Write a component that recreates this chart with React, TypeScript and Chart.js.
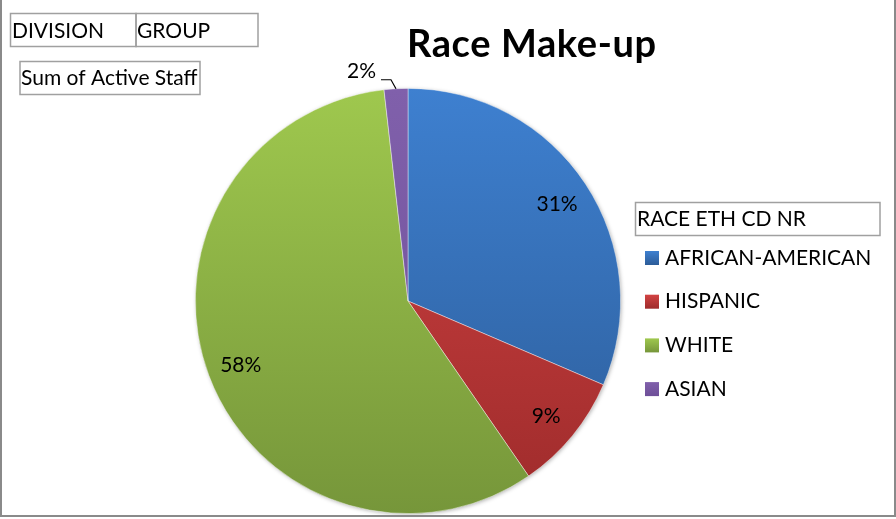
import React, { useEffect, useRef } from "react";
import { Chart, registerables } from "chart.js";

Chart.register(...registerables);

const categories = ["AFRICAN-AMERICAN", "HISPANIC", "WHITE", "ASIAN"];
const values = [31.45, 8.95, 57.8, 1.8];
const topColors = ["#3e80d0", "#d24343", "#9fc84e", "#8060ab"];
const bottomColors = ["#2c5c98", "#9e2b2b", "#76963a", "#6e4f98"];
const titleText = "Race Make-up";
const legendTitle = "RACE ETH CD NR";
const filterFields = ["DIVISION", "GROUP"];
const valueField = "Sum of Active Staff";

const FONT = "Lato, 'Open Sans', sans-serif";

const overlayPlugin = {
  id: "overlay",
  beforeDatasetsDraw(chart: any) {
    const meta = chart.getDatasetMeta(0);
    const arc = meta.data[0];
    if (!arc) return;
    const { x, y, outerRadius } = arc.getProps(["x", "y", "outerRadius"], true);
    const ctx = chart.ctx;
    ctx.save();
    ctx.shadowColor = "rgba(0,0,0,0.35)";
    ctx.shadowBlur = 4;
    ctx.shadowOffsetX = 1;
    ctx.shadowOffsetY = 1;
    ctx.fillStyle = "#ffffff";
    ctx.beginPath();
    ctx.arc(x, y, outerRadius - 0.5, 0, Math.PI * 2);
    ctx.fill();
    ctx.restore();
  },
  afterDatasetsDraw(chart: any) {
    const ctx = chart.ctx;
    const meta = chart.getDatasetMeta(0);
    const total = values.reduce((a, b) => a + b, 0);
    ctx.save();
    ctx.fillStyle = "#000";
    ctx.font = `21px ${FONT}`;
    meta.data.forEach((el: any, i: number) => {
      const p = el.getProps(["x", "y", "startAngle", "endAngle", "outerRadius"], true);
      const mid = (p.startAngle + p.endAngle) / 2;
      const pct = Math.round((values[i] / total) * 100) + "%";
      if (values[i] / total < 0.05) {
        const ex = p.x + Math.cos(mid) * p.outerRadius;
        const ey = p.y + Math.sin(mid) * p.outerRadius;
        const kx = ex - 5;
        const ky = ey - 9;
        const lx = kx - 10;
        ctx.strokeStyle = "#000";
        ctx.lineWidth = 1.2;
        ctx.beginPath();
        ctx.moveTo(ex, ey);
        ctx.lineTo(kx, ky);
        ctx.lineTo(lx, ky);
        ctx.stroke();
        ctx.textAlign = "right";
        ctx.textBaseline = "alphabetic";
        ctx.fillText(pct, lx - 5, ky - 2);
      } else {
        const r = p.outerRadius * 0.84;
        ctx.textAlign = "center";
        ctx.textBaseline = "middle";
        ctx.fillText(pct, p.x + Math.cos(mid) * r, p.y + Math.sin(mid) * r + 2);
      }
    });
    ctx.restore();
  },
  afterDraw(chart: any) {
    const ctx = chart.ctx;
    ctx.save();
    // outer frame
    ctx.strokeStyle = "#8a8a8a";
    ctx.lineWidth = 2;
    ctx.strokeRect(1, -5, 894, 521);

    // title
    ctx.fillStyle = "#000";
    ctx.font = `bold 38px ${FONT}`;
    ctx.textAlign = "left";
    ctx.textBaseline = "alphabetic";
    try { (ctx as any).letterSpacing = "0.6px"; } catch (e) {}
    ctx.fillText(titleText, 407, 57);
    try { (ctx as any).letterSpacing = "0px"; } catch (e) {}

    // field buttons
    ctx.strokeStyle = "#a0a0a0";
    ctx.lineWidth = 1.5;
    ctx.font = `21px ${FONT}`;
    ctx.strokeRect(10.5, 13.5, 125.5, 33);
    ctx.strokeRect(136, 13.5, 122, 33);
    ctx.fillText(filterFields[0], 12, 38);
    ctx.fillText(filterFields[1], 137, 38);
    ctx.strokeRect(20, 61.5, 180, 33);
    ctx.fillText(valueField, 21, 85);

    // legend
    ctx.strokeRect(635.5, 202.5, 244.5, 33);
    ctx.fillText(legendTitle, 637, 226);
    categories.forEach((c, i) => {
      const top = 251 + i * 43.7;
      const g = ctx.createLinearGradient(0, top, 0, top + 14);
      g.addColorStop(0, topColors[i]);
      g.addColorStop(1, bottomColors[i]);
      ctx.fillStyle = g;
      ctx.fillRect(645, top, 14, 14);
      ctx.fillStyle = "#000";
      ctx.fillText(c, 665, top + 13.5);
    });
    ctx.restore();
  },
};

export default function App() {
  const ref = useRef<HTMLCanvasElement | null>(null);
  useEffect(() => {
    document.body.style.margin = "0";
    const canvas = ref.current!;
    const chart = new Chart(canvas, {
      type: "pie",
      data: {
        labels: categories,
        datasets: [
          {
            data: values,
            backgroundColor: (c: any) => {
              const ch = c.chart;
              const area = ch.chartArea;
              const i = c.dataIndex ?? 0;
              if (!area) return topColors[i];
              const g = ch.ctx.createLinearGradient(0, area.top, 0, area.bottom);
              g.addColorStop(0, topColors[i]);
              g.addColorStop(1, bottomColors[i]);
              return g;
            },
            borderColor: "rgba(255,255,255,0.5)",
            borderWidth: 0.8,
          },
        ],
      },
      options: {
        responsive: false,
        animation: false,
        layout: { padding: { left: 195, right: 275, top: 88, bottom: 5 } },
        plugins: { legend: { display: false }, tooltip: { enabled: false }, title: { display: false } },
      },
      plugins: [overlayPlugin],
    });
    return () => chart.destroy();
  }, []);
  return (
    <div style={{ position: "absolute", left: 0, top: 0, width: 896, height: 519, background: "#fff" }}>
      <canvas ref={ref} width={896} height={519} style={{ width: 896, height: 519, display: "block" }} />
    </div>
  );
}
